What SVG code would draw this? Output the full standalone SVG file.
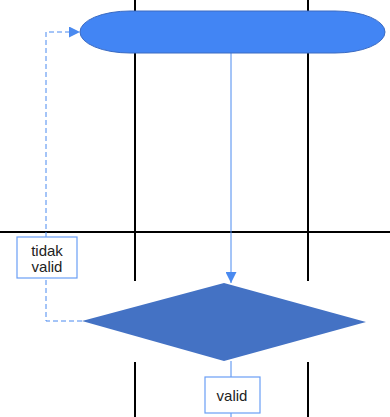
<svg xmlns="http://www.w3.org/2000/svg" width="390" height="417" viewBox="0 0 390 417">
  <defs>
    <style>
      .grid { stroke: #000; stroke-width: 2; fill: none; }
      .flow { stroke: #4a8af0; stroke-width: 1; fill: none; }
      .dash { stroke-dasharray: 5 3; }
      .label-box { fill: #fff; stroke: #6a9ef5; stroke-width: 1.2; }
      .label { font-family: "Liberation Sans", Arial, sans-serif; font-size: 15px; fill: #222; text-anchor: middle; }
    </style>
    <marker id="arrow" viewBox="0 0 10 10" refX="10" refY="5" markerWidth="11" markerHeight="11" markerUnits="userSpaceOnUse" orient="auto">
      <path d="M0,0 L10,5 L0,10 Z" fill="#4a8af0"/>
    </marker>
  </defs>
  <rect width="390" height="417" fill="#fff"/>

  <!-- lane grid -->
  <g id="grid">
    <line class="grid" x1="135" y1="0" x2="135" y2="281"/>
    <line class="grid" x1="308" y1="0" x2="308" y2="281"/>
    <line class="grid" x1="135" y1="362" x2="135" y2="417"/>
    <line class="grid" x1="308" y1="362" x2="308" y2="417"/>
    <line class="grid" x1="0" y1="232" x2="390" y2="232"/>
  </g>

  <!-- connectors -->
  <g id="connectors">
    <line class="flow" x1="231" y1="53" x2="231" y2="283" marker-end="url(#arrow)"/>
    <polyline class="flow dash" points="82,321 46,321 46,32 80,32" marker-end="url(#arrow)"/>
    <line class="flow" x1="231" y1="361" x2="231" y2="417"/>
  </g>

  <g id="start">
    <rect x="80" y="11" width="305" height="42" rx="50" ry="21" fill="#4285f4" stroke="#3b6bc2" stroke-width="1"/>
  </g>

  <g id="decision">
    <polygon points="224,283 366,322 224,361 82,321" fill="#4472c4"/>
  </g>

  <g id="label-invalid">
    <rect class="label-box" x="17" y="237" width="60" height="41"/>
    <text class="label" x="47" y="256">tidak</text>
    <text class="label" x="47" y="272">valid</text>
  </g>

  <g id="label-valid">
    <rect class="label-box" x="205" y="377" width="55" height="36"/>
    <text class="label" x="232" y="401">valid</text>
  </g>
</svg>
